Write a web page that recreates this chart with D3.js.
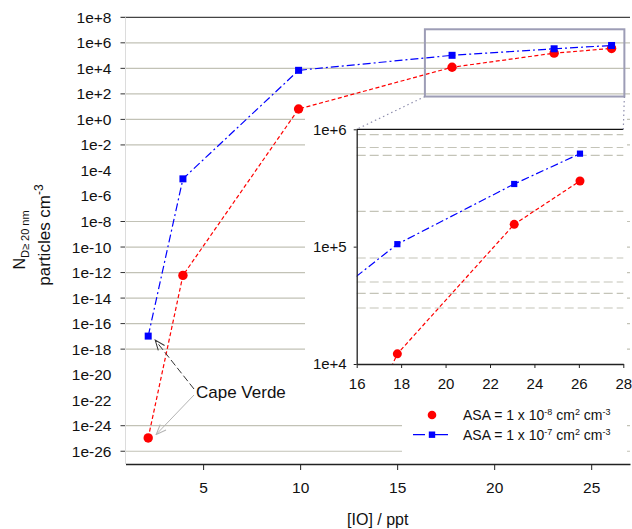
<!DOCTYPE html>
<html>
<head>
<meta charset="utf-8">
<script src="https://cdn.jsdelivr.net/npm/d3@7"></script>
<style>
  body { margin: 0; background: #fff; }
  svg { display: block; }
  text { font-family: "Liberation Sans", Arial, sans-serif; fill: #111; }
</style>
</head>
<body>
<div id="chart"></div>
<script>
// [IO] in ppt, shared by both runs
var ioPpt = [2.17, 3.96, 9.92, 17.83, 23.09, 26.05];
// N (D >= 20 nm), particles cm-3
var nAsa8 = [1.1e-25, 6e-13, 6.5, 1.22e4, 1.55e5, 3.63e5];
var nAsa7 = [1.05e-17, 2.2e-5, 7e3, 1.05e5, 3.42e5, 6.2e5];
var legendLabels = [
  [["ASA = 1 x 10", 0], ["-8", 1], [" cm", 0], ["2", 1], [" cm", 0], ["-3", 1]],
  [["ASA = 1 x 10", 0], ["-7", 1], [" cm", 0], ["2", 1], [" cm", 0], ["-3", 1]]
];
var xTicks = [5, 10, 15, 20, 25];
var yExps = d3.range(-26, 9, 2);
var yGridExps = [6, 4, 2, 0, -2, -8, -10, -12, -14, -16, -18, -24, -26];
var insetXTicks = [16, 18, 20, 22, 24, 26, 28];
var insetYTicks = [1e4, 1e5, 1e6];
var insetGrid = [3e4, 4e4, 5e4, 8e4, 2e5, 6e5, 7e5, 9e5];
var zoomX = [16.43, 26.71];
var zoomY = [62, 1.15e7];

var W = 632, H = 529;
var svg = d3.select("#chart").append("svg").attr("width", W).attr("height", H);

var x = d3.scaleLinear().domain([1, 27]).range([125.5, 630]);
var y = d3.scaleLog().domain([1e-27, 1e8]).range([464, 17.3]);
var xi = d3.scaleLinear().domain([16, 28]).range([356.7, 623.3]);
var yi = d3.scaleLog().domain([1e4, 1e6]).range([364, 129.3]);

var expFmt = function (e) { return "1e" + (e >= 0 ? "+" + e : e); };

var series = [
  { values: nAsa8, color: "#ff0000", dash: "4,2.5", shape: "circle" },
  { values: nAsa7, color: "#0000ff", dash: "8,3,2,3", shape: "square" }
];
series.forEach(function (s) {
  s.points = ioPpt.map(function (v, i) { return [v, s.values[i]]; });
});

// ---- main plot ----
var grid = svg.append("g");
grid.selectAll("line.g").data(yGridExps).enter().append("line")
  .attr("x1", x.range()[0]).attr("x2", x.range()[1])
  .attr("y1", function (e) { return y(Math.pow(10, e)); })
  .attr("y2", function (e) { return y(Math.pow(10, e)); })
  .attr("stroke", "#c2c2b6").attr("stroke-width", 1.2);
grid.selectAll("line.t").data(yGridExps).enter().append("line")
  .attr("x1", x.range()[0] - 5).attr("x2", x.range()[0])
  .attr("y1", function (e) { return y(Math.pow(10, e)); })
  .attr("y2", function (e) { return y(Math.pow(10, e)); })
  .attr("stroke", "#333");
// top frame line at 1e+8
grid.append("line")
  .attr("x1", x.range()[0] - 5).attr("x2", x.range()[1])
  .attr("y1", y(1e8)).attr("y2", y(1e8))
  .attr("stroke", "#444").attr("stroke-width", 1.3);
// light left axis
grid.append("line")
  .attr("x1", x.range()[0]).attr("x2", x.range()[0])
  .attr("y1", y.range()[1]).attr("y2", y.range()[0])
  .attr("stroke", "#dcdcdc");

var yAxis = svg.append("g").attr("transform", "translate(" + x.range()[0] + ",0)")
  .call(d3.axisLeft(y).tickValues(yExps.map(function (e) { return Math.pow(10, e); }))
    .tickFormat(function (v) { return expFmt(Math.round(Math.log10(v))); })
    .tickSize(0).tickPadding(14));
yAxis.select(".domain").remove();
yAxis.selectAll("text").style("font-size", "15.5px").style("font-family", "Liberation Sans, Arial, sans-serif").attr("fill", "#111");

var xAxis = svg.append("g").attr("transform", "translate(0," + y.range()[0] + ")")
  .call(d3.axisBottom(x).tickValues(xTicks).tickSize(6).tickSizeOuter(0).tickPadding(12));
xAxis.select(".domain").attr("stroke", "#222").attr("stroke-width", 1.3);
xAxis.selectAll("line").attr("stroke", "#222");
xAxis.selectAll("text").style("font-size", "15.5px").style("font-family", "Liberation Sans, Arial, sans-serif").attr("fill", "#111");

svg.append("text").attr("x", (x.range()[0] + x.range()[1]) / 2).attr("y", 525)
  .attr("text-anchor", "middle").style("font-size", "16px").text("[IO] / ppt");

var t1 = svg.append("text").attr("transform", "translate(25,240) rotate(-90)")
  .attr("text-anchor", "middle");
t1.append("tspan").style("font-size", "16px").text("N");
t1.append("tspan").attr("dy", 4).style("font-size", "11px").text("D\u2265 20 nm");
var t2 = svg.append("text").attr("transform", "translate(50,235) rotate(-90)")
  .attr("text-anchor", "middle");
t2.append("tspan").style("font-size", "17px").text("particles cm");
t2.append("tspan").attr("dy", -7).style("font-size", "12px").text("-3");

var line = d3.line().x(function (d) { return x(d[0]); }).y(function (d) { return y(d[1]); });

function drawMarks(g, s, px, py, r) {
  if (s.shape === "circle") {
    g.selectAll("circle").data(s.points).enter().append("circle")
      .attr("cx", function (d) { return px(d[0]); })
      .attr("cy", function (d) { return py(d[1]); })
      .attr("r", r).attr("fill", s.color);
  } else {
    g.selectAll("rect").data(s.points).enter().append("rect")
      .attr("x", function (d) { return px(d[0]) - r; })
      .attr("y", function (d) { return py(d[1]) - r; })
      .attr("width", 2 * r).attr("height", 2 * r).attr("fill", s.color);
  }
}

series.forEach(function (s) {
  var g = svg.append("g");
  g.append("path").attr("d", line(s.points)).attr("fill", "none")
    .attr("stroke", s.color).attr("stroke-width", 1.2).attr("stroke-dasharray", s.dash);
  drawMarks(g, s, x, y, s.shape === "circle" ? 4.7 : 3.5);
});

// zoom box
svg.append("rect")
  .attr("x", x(zoomX[0])).attr("y", y(zoomY[1]))
  .attr("width", x(zoomX[1]) - x(zoomX[0])).attr("height", y(zoomY[0]) - y(zoomY[1]))
  .attr("fill", "none").attr("stroke", "#9d9db6").attr("stroke-width", 2);

// ---- inset ----
svg.append("rect").attr("x", 305).attr("y", 112).attr("width", 322).attr("height", 293).attr("fill", "#fff");
svg.append("rect").attr("x", 402).attr("y", 398).attr("width", 225).attr("height", 63).attr("fill", "#fff");

var inset = svg.append("g");
inset.selectAll("line.ig").data(insetGrid).enter().append("line")
  .attr("x1", xi.range()[0]).attr("x2", xi.range()[1])
  .attr("y1", function (v) { return yi(v); }).attr("y2", function (v) { return yi(v); })
  .attr("stroke", "#c4c4b8").attr("stroke-width", 1.2).attr("stroke-dasharray", "9,4");

svg.append("clipPath").attr("id", "insetClip").append("rect")
  .attr("x", xi.range()[0]).attr("y", yi.range()[1])
  .attr("width", xi.range()[1] - xi.range()[0]).attr("height", yi.range()[0] - yi.range()[1]);

var lineI = d3.line().x(function (d) { return xi(d[0]); }).y(function (d) { return yi(d[1]); });
series.forEach(function (s) {
  var g = inset.append("g").attr("clip-path", "url(#insetClip)");
  g.append("path").attr("d", lineI(s.points)).attr("fill", "none")
    .attr("stroke", s.color).attr("stroke-width", 1.2).attr("stroke-dasharray", s.dash);
  drawMarks(g, s, xi, yi, s.shape === "circle" ? 4.5 : 3.1);
});

inset.append("line")
  .attr("x1", xi.range()[0]).attr("x2", xi.range()[1])
  .attr("y1", yi.range()[1]).attr("y2", yi.range()[1])
  .attr("stroke", "#111").attr("stroke-width", 1.3);

var ixAxis = inset.append("g").attr("transform", "translate(0," + yi.range()[0] + ")")
  .call(d3.axisBottom(xi).tickValues(insetXTicks).tickSize(4).tickSizeOuter(0).tickPadding(10));
var iyAxis = inset.append("g").attr("transform", "translate(" + xi.range()[0] + ",0)")
  .call(d3.axisLeft(yi).tickValues(insetYTicks)
    .tickFormat(function (v) { return expFmt(Math.round(Math.log10(v))); })
    .tickSize(3).tickSizeOuter(0).tickPadding(7));
[ixAxis, iyAxis].forEach(function (a) {
  a.select(".domain").attr("stroke", "#222").attr("stroke-width", 1.3);
  a.selectAll("line").attr("stroke", "#222");
  a.selectAll("text").style("font-size", "15px").style("font-family", "Liberation Sans, Arial, sans-serif").attr("fill", "#111");
});

// connectors from zoom box to inset
var conn = [[zoomX[0], xi.domain()[0]], [zoomX[1], xi.domain()[1]]];
svg.selectAll("line.conn").data(conn).enter().append("line")
  .attr("x1", function (d) { return x(d[0]); }).attr("y1", y(zoomY[0]))
  .attr("x2", function (d) { return xi(d[1]); }).attr("y2", yi.range()[1])
  .attr("stroke", "#8f8fae").attr("stroke-width", 1.2).attr("stroke-dasharray", "1.5,3");

// ---- Cape Verde annotation ----
var defs = svg.append("defs");
[["arrDark", "#333"], ["arrLight", "#b4b4b4"]].forEach(function (m) {
  defs.append("marker").attr("id", m[0]).attr("viewBox", "0 0 12 10")
    .attr("refX", 11).attr("refY", 5).attr("markerWidth", 12).attr("markerHeight", 10)
    .attr("markerUnits", "userSpaceOnUse").attr("orient", "auto")
    .append("path").attr("d", "M1,1 L11,5 L1,9").attr("fill", "none")
    .attr("stroke", m[1]).attr("stroke-width", 1);
});
svg.append("text").attr("x", 196).attr("y", 397.5).style("font-size", "17px").text("Cape Verde");
svg.append("line")
  .attr("x1", 194).attr("y1", 389)
  .attr("x2", x(ioPpt[0]) + 7).attr("y2", y(nAsa7[0]) + 4)
  .attr("stroke", "#333").attr("stroke-width", 1).attr("stroke-dasharray", "7,3")
  .attr("marker-end", "url(#arrDark)");
svg.append("line")
  .attr("x1", 194).attr("y1", 395)
  .attr("x2", x(ioPpt[0]) + 8).attr("y2", y(nAsa8[0]) - 3.5)
  .attr("stroke", "#b4b4b4").attr("stroke-width", 1)
  .attr("marker-end", "url(#arrLight)");

// ---- legend ----
var legend = svg.append("g");
var rowY = [415, 434.7];
series.forEach(function (s, i) {
  var g = legend.append("g");
  if (s.shape === "circle") {
    g.append("circle").attr("cx", 432).attr("cy", rowY[i]).attr("r", 4.3).attr("fill", s.color);
  } else {
    g.append("line").attr("x1", 413).attr("x2", 448).attr("y1", rowY[i]).attr("y2", rowY[i])
      .attr("stroke", s.color).attr("stroke-width", 1.2).attr("stroke-dasharray", "12,9,14");
    g.append("rect").attr("x", 428.8).attr("y", rowY[i] - 3.2).attr("width", 6.4).attr("height", 6.4)
      .attr("fill", s.color);
  }
  var t = g.append("text").attr("x", 463).attr("y", rowY[i] + 5).style("font-size", "14px");
  var up = false;
  legendLabels[i].forEach(function (p) {
    var sp = t.append("tspan").text(p[0]);
    if (p[1] && !up) { sp.attr("dy", -5).style("font-size", "9px"); up = true; }
    else if (!p[1] && up) { sp.attr("dy", 5); up = false; }
    else if (p[1]) { sp.style("font-size", "9px"); }
  });
});
</script>
</body>
</html>
